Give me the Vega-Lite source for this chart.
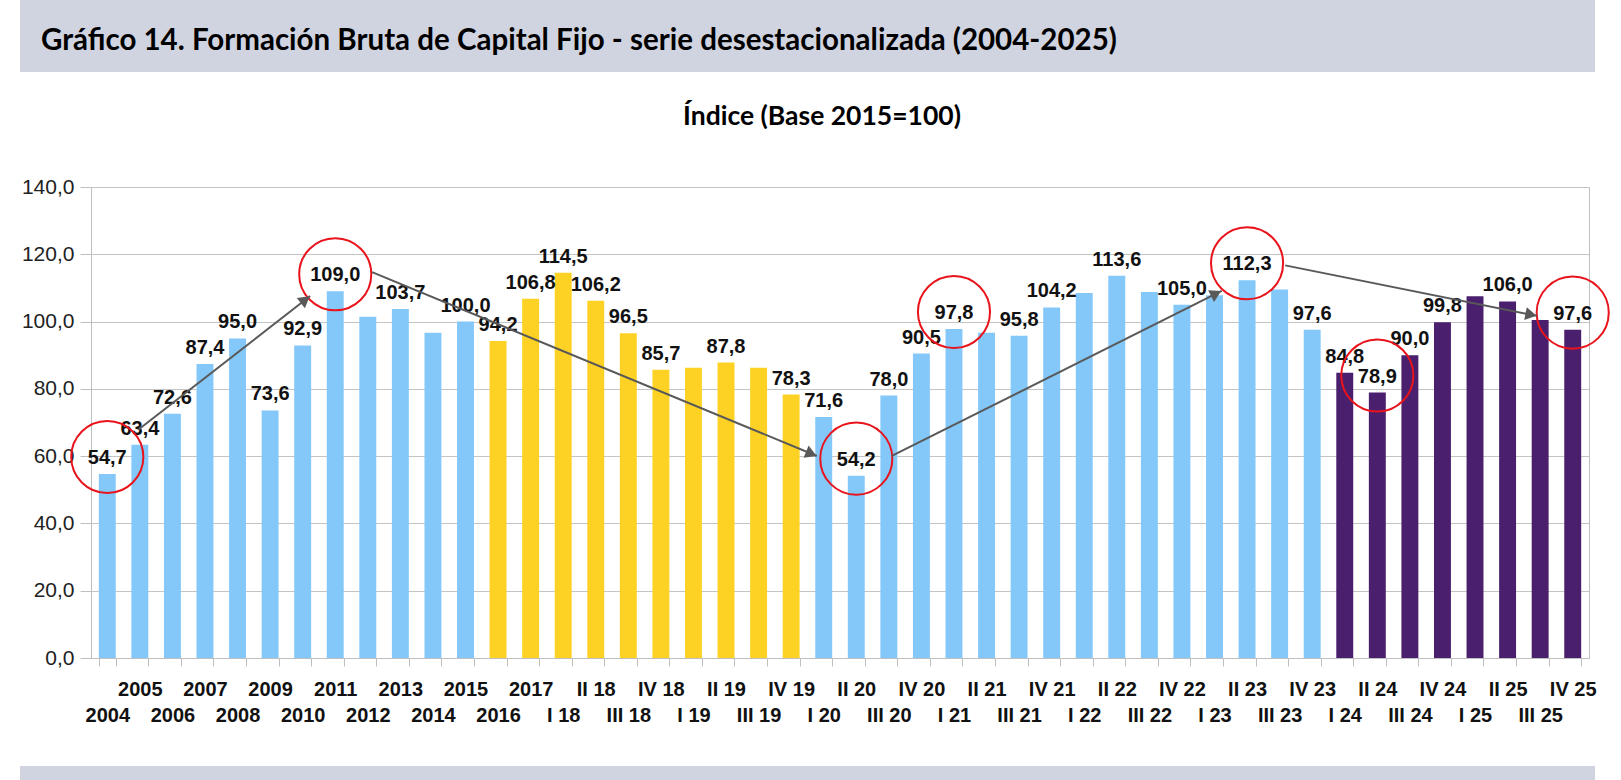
{
  "$schema": "https://vega.github.io/schema/vega-lite/v6.json",
  "background": "white",
  "padding": {"left": 20, "top": 0, "right": 0, "bottom": 0},
  "config": {
    "font": "Liberation Sans",
    "view": {"stroke": "#bfbfbf"},
    "locale": {"number": {"decimal": ",", "thousands": ".", "grouping": [3], "currency": ["", " €"]}}
  },
  "columns": 1,
  "spacing": 31,
  "concat": [
    {
      "width": 1575,
      "height": 72,
      "view": {"fill": "#d0d4e0", "stroke": null},
      "data": {"values": [{}]},
      "mark": {"type": "text"},
      "title": {
        "text": "Gráfico 14. Formación Bruta de Capital Fijo - serie desestacionalizada (2004-2025)",
        "orient": "bottom",
        "anchor": "start",
        "frame": "group",
        "offset": -45,
        "dx": 21,
        "baseline": "top",
        "font": "Lato",
        "fontSize": 29.5,
        "fontWeight": "bold",
        "color": "#000000"
      }
    },
    {
      "columns": 1,
      "spacing": 40,
      "concat": [
        {
          "spacing": -1,
          "hconcat": [
            {
              "width": 1,
              "height": 1,
              "view": {"stroke": null},
              "data": {"values": [{}]},
              "mark": {"type": "text"}
            },
            {
              "width": 1498,
              "height": 471,
              "title": {
                "text": "Índice (Base 2015=100)",
                "anchor": "middle",
                "baseline": "alphabetic",
                "offset": 25,
                "dx": -18,
                "font": "Lato",
                "fontSize": 26.5,
                "fontWeight": "bold",
                "color": "#000000"
              },
              "layer": [
                {
                  "data": {
                    "values": [
                      {"p": "2004", "v": 54.7, "g": "a", "l": 1, "c": 1},
                      {"p": "2005", "v": 63.4, "g": "a", "l": 1, "c": 0},
                      {"p": "2006", "v": 72.6, "g": "a", "l": 1, "c": 0},
                      {"p": "2007", "v": 87.4, "g": "a", "l": 1, "c": 0},
                      {"p": "2008", "v": 95.0, "g": "a", "l": 1, "c": 0},
                      {"p": "2009", "v": 73.6, "g": "a", "l": 1, "c": 0},
                      {"p": "2010", "v": 92.9, "g": "a", "l": 1, "c": 0},
                      {"p": "2011", "v": 109.0, "g": "a", "l": 1, "c": 1},
                      {"p": "2012", "v": 101.4, "g": "a", "l": 0, "c": 0},
                      {"p": "2013", "v": 103.7, "g": "a", "l": 1, "c": 0},
                      {"p": "2014", "v": 96.7, "g": "a", "l": 0, "c": 0},
                      {"p": "2015", "v": 100.0, "g": "a", "l": 1, "c": 0},
                      {"p": "2016", "v": 94.2, "g": "y", "l": 1, "c": 0},
                      {"p": "2017", "v": 106.8, "g": "y", "l": 1, "c": 0},
                      {"p": "I 18", "v": 114.5, "g": "y", "l": 1, "c": 0},
                      {"p": "II 18", "v": 106.2, "g": "y", "l": 1, "c": 0},
                      {"p": "III 18", "v": 96.5, "g": "y", "l": 1, "c": 0},
                      {"p": "IV 18", "v": 85.7, "g": "y", "l": 1, "c": 0},
                      {"p": "I 19", "v": 86.3, "g": "y", "l": 0, "c": 0},
                      {"p": "II 19", "v": 87.8, "g": "y", "l": 1, "c": 0},
                      {"p": "III 19", "v": 86.3, "g": "y", "l": 0, "c": 0},
                      {"p": "IV 19", "v": 78.3, "g": "y", "l": 1, "c": 0},
                      {"p": "I 20", "v": 71.6, "g": "a", "l": 1, "c": 0},
                      {"p": "II 20", "v": 54.2, "g": "a", "l": 1, "c": 1},
                      {"p": "III 20", "v": 78.0, "g": "a", "l": 1, "c": 0},
                      {"p": "IV 20", "v": 90.5, "g": "a", "l": 1, "c": 0},
                      {"p": "I 21", "v": 97.8, "g": "a", "l": 1, "c": 1},
                      {"p": "II 21", "v": 96.7, "g": "a", "l": 0, "c": 0},
                      {"p": "III 21", "v": 95.8, "g": "a", "l": 1, "c": 0},
                      {"p": "IV 21", "v": 104.2, "g": "a", "l": 1, "c": 0},
                      {"p": "I 22", "v": 108.5, "g": "a", "l": 0, "c": 0},
                      {"p": "II 22", "v": 113.6, "g": "a", "l": 1, "c": 0},
                      {"p": "III 22", "v": 108.8, "g": "a", "l": 0, "c": 0},
                      {"p": "IV 22", "v": 105.0, "g": "a", "l": 1, "c": 0},
                      {"p": "I 23", "v": 107.8, "g": "a", "l": 0, "c": 0},
                      {"p": "II 23", "v": 112.3, "g": "a", "l": 1, "c": 1},
                      {"p": "III 23", "v": 109.5, "g": "a", "l": 0, "c": 0},
                      {"p": "IV 23", "v": 97.6, "g": "a", "l": 1, "c": 0},
                      {"p": "I 24", "v": 84.8, "g": "p", "l": 1, "c": 0},
                      {"p": "II 24", "v": 78.9, "g": "p", "l": 1, "c": 1},
                      {"p": "III 24", "v": 90.0, "g": "p", "l": 1, "c": 0},
                      {"p": "IV 24", "v": 99.8, "g": "p", "l": 1, "c": 0},
                      {"p": "I 25", "v": 107.5, "g": "p", "l": 0, "c": 0},
                      {"p": "II 25", "v": 106.0, "g": "p", "l": 1, "c": 0},
                      {"p": "III 25", "v": 100.5, "g": "p", "l": 0, "c": 0},
                      {"p": "IV 25", "v": 97.6, "g": "p", "l": 1, "c": 1}
                    ]
                  },
                  "encoding": {
                    "x": {
                      "field": "p",
                      "type": "nominal",
                      "sort": null,
                      "scale": {"paddingInner": 0.48, "paddingOuter": 0.24},
                      "axis": {
                        "title": null,
                        "labelAngle": 0,
                        "labelFont": "Liberation Sans",
                        "labelFontWeight": "bold",
                        "labelFontSize": 20,
                        "labelColor": "#111111",
                        "labelLineHeight": 26,
                        "labelOverlap": false,
                        "labelPadding": 13,
                        "tickBand": "extent",
                        "tickSize": 8,
                        "tickColor": "#bfbfbf",
                        "domainColor": "#bfbfbf",
                        "grid": false,
                        "labelExpr": "round(datum.index * 45) % 2 == 0 ? ['', datum.label] : datum.label"
                      }
                    },
                    "y": {
                      "field": "v",
                      "type": "quantitative",
                      "title": null,
                      "scale": {"domain": [0, 140], "nice": false},
                      "axis": {
                        "title": null,
                        "values": [0, 20, 40, 60, 80, 100, 120, 140],
                        "format": ".1f",
                        "grid": true,
                        "gridColor": "#c4c4c4",
                        "tickSize": 11,
                        "tickColor": "#bfbfbf",
                        "domainColor": "#bfbfbf",
                        "labelPadding": 6,
                        "labelFont": "Liberation Sans",
                        "labelFontSize": 21,
                        "labelColor": "#222222"
                      }
                    }
                  },
                  "layer": [
                    {
                      "mark": {"type": "bar"},
                      "encoding": {
                        "color": {
                          "field": "g",
                          "type": "nominal",
                          "scale": {"domain": ["a", "y", "p"], "range": ["#84c8fa", "#fdd225", "#4a1f6e"]},
                          "legend": null
                        }
                      }
                    },
                    {
                      "mark": {"type": "text", "font": "Liberation Sans", "fontWeight": "bold", "fontSize": 20, "baseline": "alphabetic", "dy": -10, "color": "#111111"},
                      "encoding": {
                        "text": {"condition": {"test": "datum.l == 1", "field": "v", "type": "quantitative", "format": ".1f"}, "value": ""}
                      }
                    },
                    {
                      "mark": {"type": "point", "shape": "circle", "filled": false, "size": 5200, "stroke": "#e8131b", "strokeWidth": 2, "yOffset": -17},
                      "encoding": {
                        "opacity": {"condition": {"test": "datum.c == 1", "value": 1}, "value": 0}
                      }
                    }
                  ]
                },
                {
                  "data": {
                    "values": [
                      {"id": 1, "x1": 1.46, "y1": 67.9, "x2": 6.73, "y2": 107.6, "hx": 6.58, "hy": 106.5},
                      {"id": 2, "x1": 8.63, "y1": 114.7, "x2": 22.29, "y2": 60.05, "hx": 22.12, "hy": 60.7},
                      {"id": 3, "x1": 24.59, "y1": 60.05, "x2": 34.72, "y2": 109.1, "hx": 34.55, "hy": 108.3},
                      {"id": 4, "x1": 36.67, "y1": 116.7, "x2": 44.4, "y2": 101.7, "hx": 44.22, "hy": 102.05}
                    ]
                  },
                  "layer": [
                    {
                      "mark": {"type": "rule", "color": "#595959", "strokeWidth": 2},
                      "encoding": {
                        "x": {"field": "x1", "type": "quantitative", "scale": {"domain": [0, 46], "nice": false, "zero": false}, "axis": null},
                        "x2": {"field": "x2"},
                        "y": {"field": "y1", "type": "quantitative", "title": null},
                        "y2": {"field": "y2"}
                      }
                    },
                    {
                      "mark": {"type": "point", "shape": "triangle-right", "filled": true, "size": 170, "color": "#595959", "opacity": 1},
                      "encoding": {
                        "x": {"field": "hx", "type": "quantitative", "axis": null},
                        "y": {"field": "hy", "type": "quantitative", "title": null},
                        "angle": {"field": "id", "type": "quantitative", "scale": {"domain": [1, 2, 3, 4], "range": [321.8, 22.6, 333.2, 11.4]}, "legend": null}
                      }
                    }
                  ]
                }
              ],
              "resolve": {"scale": {"x": "independent"}}
            }
          ]
        },
        {
          "width": 1575,
          "height": 15,
          "view": {"fill": "#d0d4e0", "stroke": null},
          "data": {"values": [{}]},
          "mark": {"type": "text"}
        }
      ]
    }
  ]
}
